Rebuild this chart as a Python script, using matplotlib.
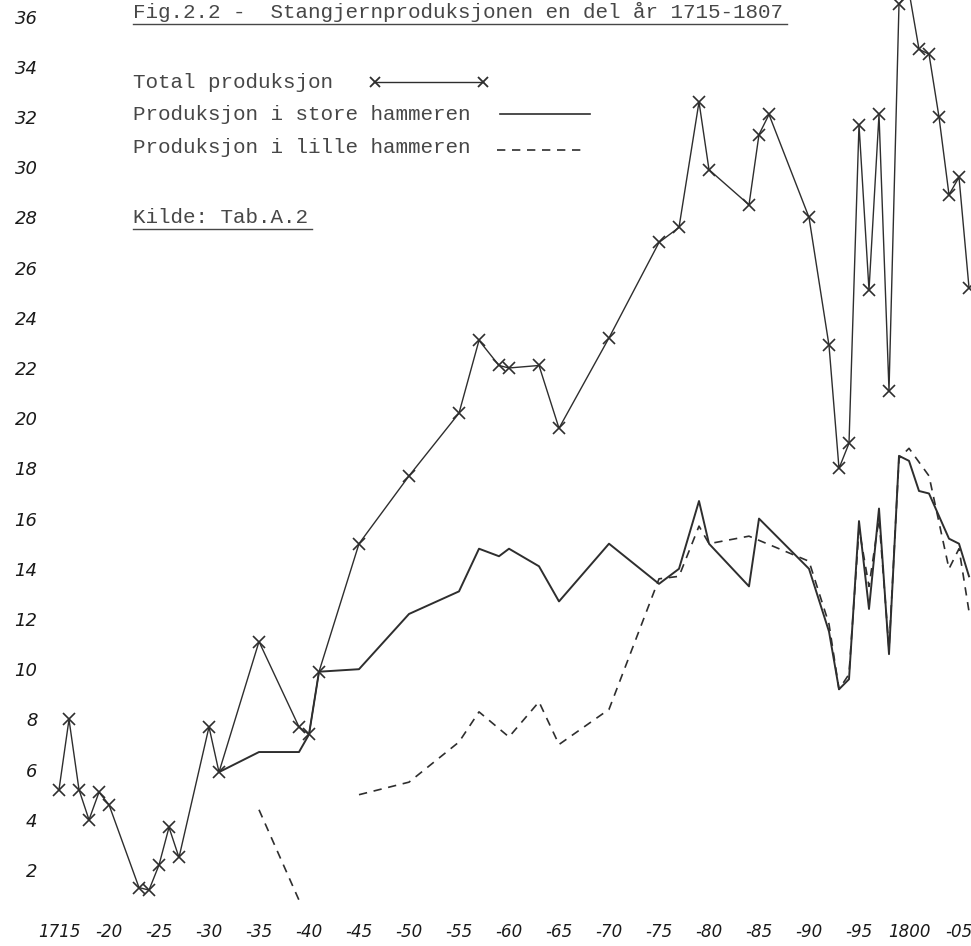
import matplotlib
matplotlib.use("Agg")
import matplotlib.pyplot as plt
import numpy as np
from matplotlib.lines import Line2D

# Stangjern production
years_total = [1715, 1716, 1717, 1718, 1719, 1720, 1723, 1724, 1725, 1726, 1727,
               1730, 1731, 1735, 1739, 1740, 1741, 1745, 1750, 1755, 1757, 1759,
               1760, 1763, 1765, 1770, 1775, 1777, 1779, 1780, 1784, 1785, 1786,
               1790, 1792, 1793, 1794, 1795, 1796, 1797, 1798, 1799, 1800, 1801,
               1802, 1803, 1804, 1805, 1806]
total = [5.2, 8.0, 5.2, 4.0, 5.1, 4.6, 1.3, 1.2, 2.2, 3.7, 2.5,
         7.7, 5.9, 11.1, 7.7, 7.4, 9.9, 15.0, 17.7, 20.2, 23.1, 22.1,
         22.0, 22.1, 19.6, 23.2, 27.0, 27.6, 32.6, 29.9, 28.5, 31.3, 32.1,
         28.0, 22.9, 18.0, 19.0, 31.7, 25.1, 32.1, 21.1, 36.5, 37.0, 34.7,
         34.5, 32.0, 28.9, 29.6, 25.2]

years_store = [1731, 1735, 1739, 1740, 1741, 1745, 1750, 1755, 1757, 1759, 1760,
               1763, 1765, 1770, 1775, 1777, 1779, 1780, 1784, 1785, 1790, 1792,
               1793, 1794, 1795, 1796, 1797, 1798, 1799, 1800, 1801, 1802, 1804,
               1805, 1806]
store = [5.9, 6.7, 6.7, 7.4, 9.9, 10.0, 12.2, 13.1, 14.8, 14.5, 14.8,
         14.1, 12.7, 15.0, 13.4, 14.0, 16.7, 15.0, 13.3, 16.0, 14.0, 11.5,
         9.2, 9.6, 15.9, 12.4, 16.4, 10.6, 18.5, 18.3, 17.1, 17.0, 15.2,
         15.0, 13.7]

years_lille = [1735, 1739, 1740, 1745, 1750, 1755, 1757, 1760, 1763, 1765, 1770,
               1775, 1777, 1779, 1780, 1784, 1790, 1792, 1793, 1794, 1795, 1796,
               1797, 1798, 1799, 1800, 1802, 1804, 1805, 1806]
lille = [4.4, 0.8, np.nan, 5.0, 5.5, 7.1, 8.3, 7.3, 8.7, 7.0, 8.4,
         13.6, 13.7, 15.7, 15.0, 15.3, 14.3, 11.8, 9.2, 9.8, 15.6, 13.3,
         16.0, 10.8, 18.4, 18.8, 17.7, 14.0, 14.8, 12.3]

x_ticks = list(range(1715, 1806, 5))
x_labels = ["1715", "-20", "-25", "-30", "-35", "-40", "-45", "-50", "-55", "-60",
            "-65", "-70", "-75", "-80", "-85", "-90", "-95", "1800", "-05"]
y_ticks = list(range(2, 37, 2))

W, H = 971, 946
ink = "#2e2e2e"
type_ink = "#474747"
mono = "Liberation Mono"


def fx(px):
    return px / W


def fy(py):
    return 1 - py / H


fig = plt.figure(figsize=(W / 100, H / 100), dpi=100)
fig.patch.set_facecolor("white")
ax = fig.add_axes([50 / W, 41 / H, 921 / W, 905 / H])
ax.set_xlim(1714.1, 1806.2)
ax.set_ylim(0.606, 36.66)

ax.plot(years_total, total, color=ink, lw=1.0, marker="x", ms=8, mew=1.2)
ax.plot(years_store, store, color=ink, lw=1.4)
ax.plot(years_lille, lille, color=ink, lw=1.2, linestyle=(0, (5, 4)))

for s in ax.spines.values():
    s.set_visible(False)
ax.set_xticks(x_ticks)
ax.set_xticklabels(x_labels, fontsize=12, style="italic", color="#1a1a1a")
ax.set_yticks(y_ticks)
ax.set_yticklabels([str(v) for v in y_ticks], fontsize=13, style="italic", color="#1a1a1a")
ax.tick_params(axis="x", length=0, pad=13)
ax.tick_params(axis="y", length=0, pad=9)

# typed title and legend block
fig.text(fx(133), fy(18), "Fig.2.2 -  Stangjernproduksjonen en del år 1715-1807",
         family=mono, fontsize=15, color=type_ink, va="baseline")
fig.add_artist(Line2D([fx(133), fx(787)], [fy(24), fy(24)], transform=fig.transFigure,
                      color=type_ink, lw=1.0))

fig.text(fx(133), fy(88), "Total produksjon", family=mono, fontsize=15,
         color=type_ink, va="baseline")
fig.text(fx(133), fy(120), "Produksjon i store hammeren", family=mono, fontsize=15,
         color=type_ink, va="baseline")
fig.text(fx(133), fy(153), "Produksjon i lille hammeren", family=mono, fontsize=15,
         color=type_ink, va="baseline")
fig.text(fx(133), fy(223), "Kilde: Tab.A.2", family=mono, fontsize=15,
         color=type_ink, va="baseline")
fig.add_artist(Line2D([fx(133), fx(312)], [fy(229), fy(229)], transform=fig.transFigure,
                      color=type_ink, lw=1.0))

# legend samples
fig.add_artist(Line2D([fx(375), fx(483)], [fy(82), fy(82)], transform=fig.transFigure,
                      color=ink, lw=1.0, marker="x", ms=7, mew=1.3))
fig.add_artist(Line2D([fx(500), fx(590)], [fy(114), fy(114)], transform=fig.transFigure,
                      color=ink, lw=1.2))
fig.add_artist(Line2D([fx(497), fx(585)], [fy(150), fy(150)], transform=fig.transFigure,
                      color=ink, lw=1.2, linestyle=(0, (5, 4))))

fig.savefig("out.png", dpi=100)
